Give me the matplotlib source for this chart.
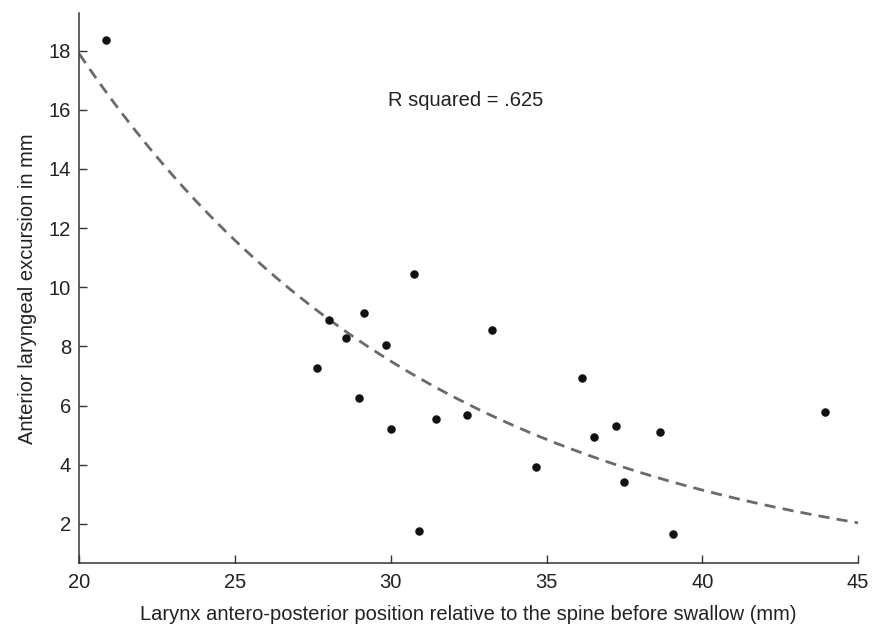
import matplotlib
matplotlib.use("Agg")
import matplotlib.pyplot as plt
import numpy as np

plt.rcParams['font.family'] = ['Liberation Sans', 'DejaVu Sans']

# larynx position before swallow (mm) vs anterior excursion (mm)
position = [20.87, 30.76, 29.15, 28.0, 28.55, 29.86, 33.25, 27.64, 28.98,
            30.02, 31.45, 32.44, 30.9, 36.15, 37.22, 36.51, 38.64, 34.67,
            37.49, 39.07, 43.95]
excursion = [18.37, 10.45, 9.12, 8.88, 8.27, 8.04, 8.54, 7.26, 6.27,
             5.2, 5.54, 5.68, 1.76, 6.92, 5.32, 4.93, 5.12, 3.94,
             3.43, 1.67, 5.79]

# exponential fit y = a * exp(b * x)
fit_a = 101.7
fit_b = -0.0869
r_squared = ".625"

fig = plt.figure(figsize=(8.82, 6.25), dpi=100)
ax = fig.add_axes([0.0899, 0.0987, 0.883, 0.880])

xs = np.linspace(20, 45, 300)
ax.plot(xs, fit_a * np.exp(fit_b * xs), color='#6a6a6a', lw=2.0,
        dashes=(4, 2.6))
ax.scatter(position, excursion, s=26, color='#111111', zorder=3)

ax.text(29.9, 16.3, "R squared = " + r_squared, fontsize=14.5,
        color='#222222', va='center', ha='left')

ax.set_xlim(20, 45)
ax.set_ylim(0.67, 19.26)
ax.set_xticks([20, 25, 30, 35, 40, 45])
ax.set_yticks([2, 4, 6, 8, 10, 12, 14, 16, 18])

for s in ['top', 'right']:
    ax.spines[s].set_visible(False)
for s in ['left', 'bottom']:
    ax.spines[s].set_linewidth(1.1)
    ax.spines[s].set_color('#333333')

ax.tick_params(direction='in', length=6, width=1, colors='#333333',
               labelsize=14.5, labelcolor='#222222')
ax.tick_params(axis='x', pad=7)
ax.tick_params(axis='y', pad=6)

ax.set_xlabel("Larynx antero-posterior position relative to the spine before swallow (mm)",
              fontsize=14.5, color='#222222', labelpad=9)
ax.set_ylabel("Anterior laryngeal excursion in mm", fontsize=14.5,
              color='#222222', labelpad=8)

fig.savefig("out.png", dpi=100)
